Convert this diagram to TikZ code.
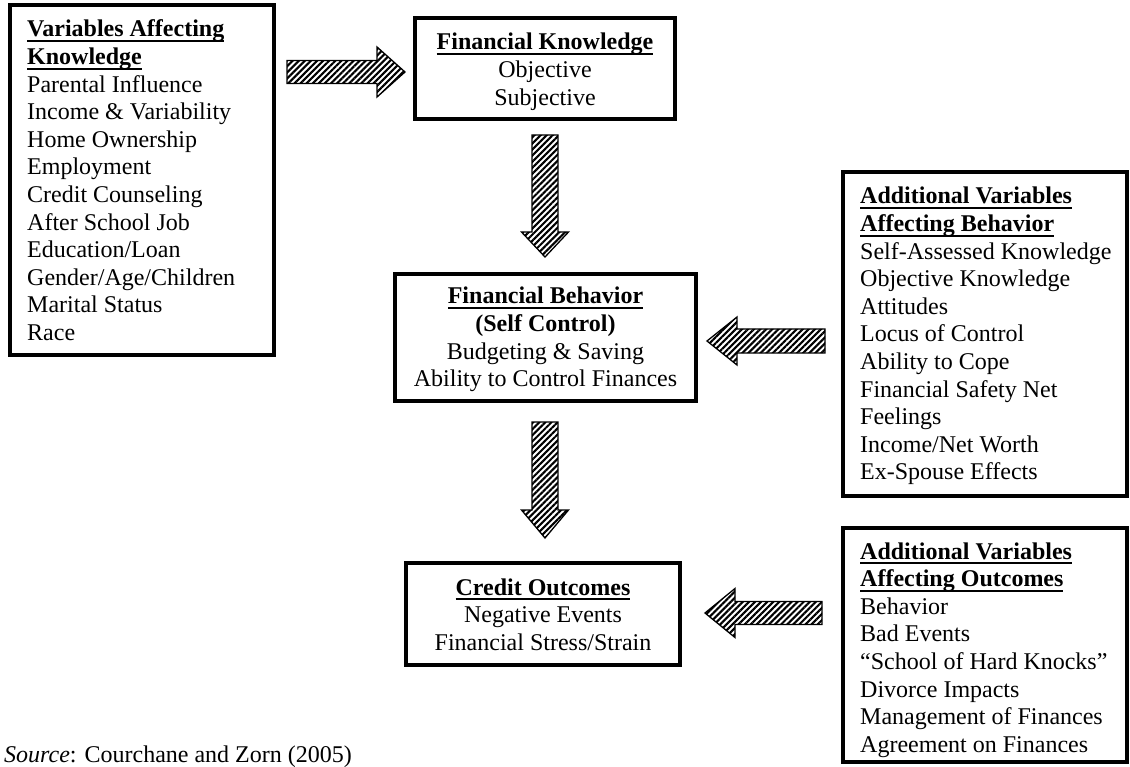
\documentclass[tikz,border=0pt]{standalone}
\usepackage{fontspec}
\setmainfont{Liberation Serif}
\usetikzlibrary{calc,patterns.meta}
\newcommand{\ulhead}[1]{\setbox0=\hbox{\bfseries #1}\rlap{\rule[-5pt]{\wd0}{1.9pt}}\box0}
\tikzset{
  bigbox/.style={draw=black, line width=4pt, fill=white, inner sep=0pt},
  txt/.style={inner sep=0pt, font=\fontsize{24}{27.6}\selectfont},
  hatcharrow/.style={draw=black, line width=1.3pt, line join=miter,
    pattern={Lines[angle=45,distance=4.3pt,line width=2.1pt]}, pattern color=black}
}
\begin{document}
\begin{tikzpicture}[x=1pt,y=-1pt]
\useasboundingbox (0,0) rectangle (1130,767);
% boxes
\node[bigbox, minimum width=264pt, minimum height=350pt] (lk) at (142,180) {};
\node[bigbox, minimum width=260pt, minimum height=101pt] (fk) at (545,68.5) {};
\node[bigbox, minimum width=301pt, minimum height=127pt] (fb) at (545.5,337.5) {};
\node[bigbox, minimum width=274pt, minimum height=102pt] (co) at (543,614) {};
\node[bigbox, minimum width=284pt, minimum height=324pt] (rb) at (985,334) {};
\node[bigbox, minimum width=284pt, minimum height=234pt] (ro) at (985,645) {};
% texts
\node[txt, anchor=base west] (lkt) at (27,37) {\begin{tabular}[t]{@{}l@{}}
\ulhead{Variables Affecting}\\ \ulhead{Knowledge}\\
Parental Influence\\ Income \& Variability\\ Home Ownership\\ Employment\\
Credit Counseling\\ After School Job\\ Education/Loan\\ Gender/Age/Children\\
Marital Status\\ Race\end{tabular}};
\node[txt, anchor=base] (fkt) at (545,50) {\begin{tabular}[t]{@{}c@{}}
\ulhead{Financial Knowledge}\\ Objective\\ Subjective\end{tabular}};
\node[txt, anchor=base] (fbt) at (545.5,304) {\begin{tabular}[t]{@{}c@{}}
\ulhead{Financial Behavior}\\ \textbf{(Self Control)}\\ Budgeting \& Saving\\ Ability to Control Finances\end{tabular}};
\node[txt, anchor=base] (cot) at (543,595) {\begin{tabular}[t]{@{}c@{}}
\ulhead{Credit Outcomes}\\ Negative Events\\ Financial Stress/Strain\end{tabular}};
\node[txt, anchor=base west] (rbt) at (860,204) {\begin{tabular}[t]{@{}l@{}}
\ulhead{Additional Variables}\\ \ulhead{Affecting Behavior}\\
Self-Assessed Knowledge\\ Objective Knowledge\\ Attitudes\\ Locus of Control\\
Ability to Cope\\ Financial Safety Net\\ Feelings\\ Income/Net Worth\\ Ex-Spouse Effects\end{tabular}};
\node[txt, anchor=base west] (rot) at (860,559) {\begin{tabular}[t]{@{}l@{}}
\ulhead{Additional Variables}\\ \ulhead{Affecting Outcomes}\\
Behavior\\ Bad Events\\ “School of Hard Knocks”\\ Divorce Impacts\\
Management of Finances\\ Agreement on Finances\end{tabular}};
\node[txt, anchor=base west] (src) at (4,762) {\textit{Source}: Courchane and Zorn (2005)};
% arrow end points
\coordinate (a1s) at (287,72);   \coordinate (a1e) at (405,72);
\coordinate (a2s) at (545,135);  \coordinate (a2e) at (545,257);
\coordinate (a3s) at (545,422);  \coordinate (a3e) at (545,538);
\coordinate (a4s) at (825,341);  \coordinate (a4e) at (707,341);
\coordinate (a5s) at (822,613);  \coordinate (a5e) at (705,613);
% right arrow
\draw[hatcharrow] ($(a1s)+(0,-11.5)$) -- ($(a1e)+(-28,-11.5)$) -- ($(a1e)+(-28,-25)$) -- (a1e)
  -- ($(a1e)+(-28,25)$) -- ($(a1e)+(-28,11.5)$) -- ($(a1s)+(0,11.5)$) -- cycle;
% down arrows
\draw[hatcharrow] ($(a2s)+(-13,0)$) -- ($(a2e)+(-13,-25)$) -- ($(a2e)+(-23.5,-25)$) -- (a2e)
  -- ($(a2e)+(23.5,-25)$) -- ($(a2e)+(13,-25)$) -- ($(a2s)+(13,0)$) -- cycle;
\draw[hatcharrow] ($(a3s)+(-13,0)$) -- ($(a3e)+(-13,-28)$) -- ($(a3e)+(-23.5,-28)$) -- (a3e)
  -- ($(a3e)+(23.5,-28)$) -- ($(a3e)+(13,-28)$) -- ($(a3s)+(13,0)$) -- cycle;
% left arrows
\draw[hatcharrow] ($(a4s)+(0,-12)$) -- ($(a4e)+(30,-12)$) -- ($(a4e)+(30,-24)$) -- (a4e)
  -- ($(a4e)+(30,24)$) -- ($(a4e)+(30,12)$) -- ($(a4s)+(0,12)$) -- cycle;
\draw[hatcharrow] ($(a5s)+(0,-11.5)$) -- ($(a5e)+(30,-11.5)$) -- ($(a5e)+(30,-24.5)$) -- (a5e)
  -- ($(a5e)+(30,24.5)$) -- ($(a5e)+(30,11.5)$) -- ($(a5s)+(0,11.5)$) -- cycle;
\end{tikzpicture}
\end{document}
